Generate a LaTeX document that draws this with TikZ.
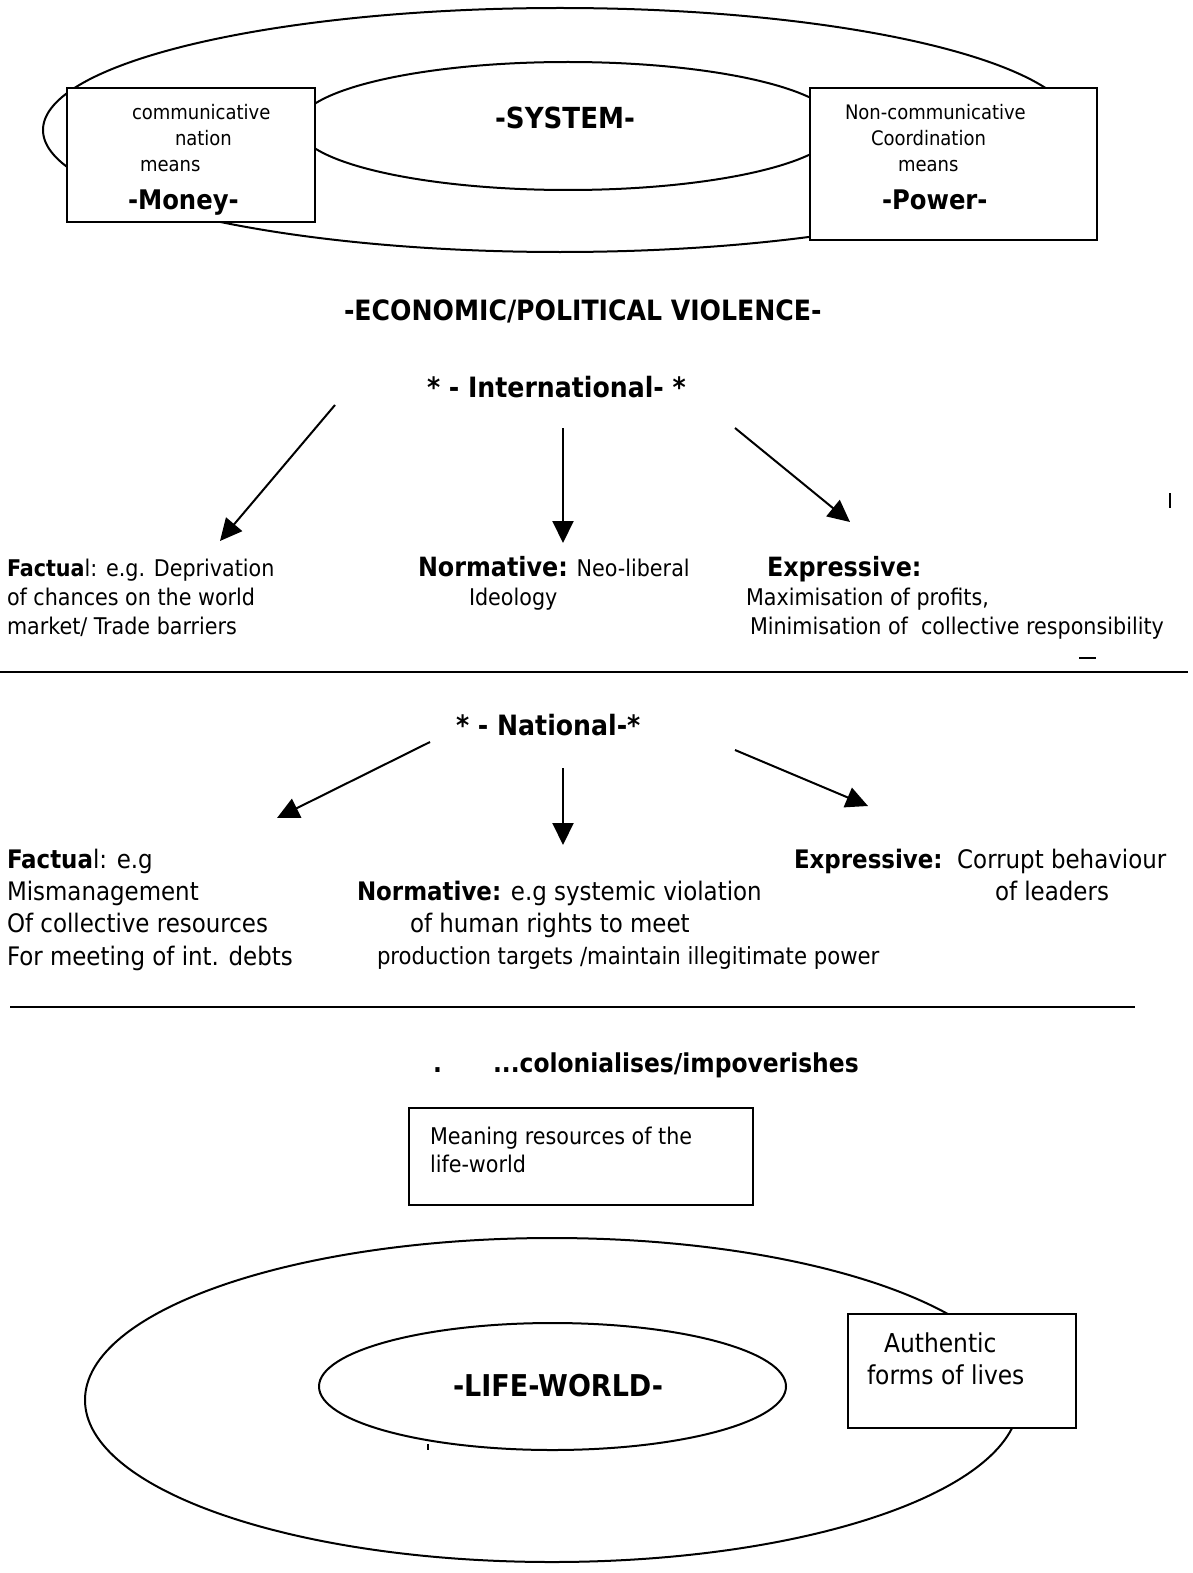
\documentclass[tikz,border=0pt]{standalone}
\usepackage{fontspec}
\setmainfont{DejaVu Sans Condensed}[BoldFont={DejaVu Sans Condensed Bold}]
\usetikzlibrary{arrows.meta}

\newcommand{\biglabel}[1]{{\bfseries\fontsize{26.5}{30}\selectfont #1}}

\begin{document}
\begin{tikzpicture}[x=1pt,y=-1pt,
  every node/.style={inner sep=0pt, outer sep=0pt},
  boxtxt/.style={anchor=base west, font=\fontsize{20}{24}\selectfont},
  smalltxt/.style={anchor=base west, font=\fontsize{23}{28}\selectfont},
  midtxt/.style={anchor=base west, font=\fontsize{25.5}{30}\selectfont},
  head/.style={anchor=base west, font=\bfseries\fontsize{28}{32}\selectfont},
  frame/.style={draw, line width=2pt, fill=white, anchor=north west},
  ring/.style={draw, line width=2pt},
  rule/.style={line width=2.5pt},
  arr/.style={line width=2pt, -{Triangle[length=22pt,width=21pt]}},
]
\path[use as bounding box, fill=white] (0,0) rectangle (1192,1573);

% ---------- system ----------
\draw[ring] (560,130) ellipse [x radius=517, y radius=122];
\draw[ring] (568,126) ellipse [x radius=270, y radius=64];

\node[frame, minimum width=248pt, minimum height=134pt] (moneybox) at (67,88) {};
\node[frame, minimum width=287pt, minimum height=152pt] (powerbox) at (810,88) {};

\node[boxtxt] (m1) at (132,120) {communicative};
\node[boxtxt] (m2) at (175,146) {nation};
\node[boxtxt] (m3) at (140,172) {means};
\node[head, font=\bfseries\fontsize{27}{32}\selectfont] (money) at (128,209) {-Money-};

\node[head, font=\bfseries\fontsize{29}{32}\selectfont, anchor=base] (system) at (565,129) {-SYSTEM-};

\node[boxtxt] (p1) at (845,120) {Non-communicative};
\node[boxtxt] (p2) at (871,146) {Coordination};
\node[boxtxt] (p3) at (898,172) {means};
\node[head, font=\bfseries\fontsize{27}{32}\selectfont] (power) at (882,209) {-Power-};

% ---------- violence ----------
\node[head] (violence) at (344,320) {-ECONOMIC/POLITICAL VIOLENCE-};

% international level
\node[head] (intl) at (427,397) {* - International- *};

\coordinate (i1s) at (335,405);  \coordinate (i1e) at (220,541);
\coordinate (i2s) at (563,428);  \coordinate (i2e) at (563,543);
\coordinate (i3s) at (735,428);  \coordinate (i3e) at (850,522);
\draw[arr] (i1s) -- (i1e);
\draw[arr] (i2s) -- (i2e);
\draw[arr] (i3s) -- (i3e);

\node[smalltxt] (if1) at (7,576) {\textbf{Factua}l: e.g. Deprivation};
\node[smalltxt] (if2) at (7,605) {of chances on the world};
\node[smalltxt] (if3) at (7,634) {market/ Trade barriers};

\node[smalltxt] (in1) at (418,576) {\biglabel{Normative:} Neo-liberal};
\node[smalltxt] (in2) at (469,605) {Ideology};

\node[smalltxt] (ie1) at (767,576) {\biglabel{Expressive:}};
\node[smalltxt] (ie2) at (746,605) {Maximisation of profits,};
\node[smalltxt] (ie3) at (750,634) {Minimisation of\ \ collective responsibility};

\draw[line width=2pt] (1170,493) -- (1170,508);
\draw[line width=2pt] (1079,658) -- (1096,658);

\coordinate (r1a) at (0,672);  \coordinate (r1b) at (1188,672);
\draw[rule] (r1a) -- (r1b);

% national level
\node[head] (natl) at (456,735) {* - National-*};

\coordinate (n1s) at (430,742);  \coordinate (n1e) at (277,818);
\coordinate (n2s) at (563,768);  \coordinate (n2e) at (563,845);
\coordinate (n3s) at (735,750);  \coordinate (n3e) at (868,806);
\draw[arr] (n1s) -- (n1e);
\draw[arr] (n2s) -- (n2e);
\draw[arr] (n3s) -- (n3e);

\node[midtxt] (nf1) at (7,868) {\textbf{Factua}l: e.g};
\node[midtxt] (nf2) at (7,900) {Mismanagement};
\node[midtxt] (nf3) at (7,932) {Of collective resources};
\node[midtxt] (nf4) at (7,965) {For meeting of int. debts};

\node[midtxt] (nn1) at (357,900) {\textbf{Normative:} e.g systemic violation};
\node[midtxt] (nn2) at (410,932) {of human rights to meet};
\node[smalltxt, font=\fontsize{23.6}{28}\selectfont] (nn3) at (377,964) {production targets /maintain illegitimate power};

\node[midtxt] (ne1) at (794,868) {\textbf{Expressive:}\ \ Corrupt behaviour};
\node[midtxt] (ne2) at (995,900) {of leaders};

\coordinate (r2a) at (10,1007);  \coordinate (r2b) at (1135,1007);
\draw[rule] (r2a) -- (r2b);

% ---------- colonisation ----------
\node[head, font=\bfseries\fontsize{26}{30}\selectfont] (dot) at (433,1072) {.};
\node[head, font=\bfseries\fontsize{26}{30}\selectfont] (colon) at (493,1072) {...colonialises/impoverishes};

\node[frame, minimum width=344pt, minimum height=97pt] (meaningbox) at (409,1108) {};
\node[smalltxt] (mr1) at (430,1144) {Meaning resources of the};
\node[smalltxt] (mr2) at (430,1172) {life-world};

% ---------- life-world ----------
\draw[ring] (552,1400) ellipse [x radius=467, y radius=162];
\draw[ring] (552.5,1386.5) ellipse [x radius=233.5, y radius=63.5];
\draw[line width=1.5pt] (428,1444) -- (428,1450);

\node[head, font=\bfseries\fontsize{30}{32}\selectfont] (lifeworld) at (453,1396) {-LIFE-WORLD-};

\node[frame, minimum width=228pt, minimum height=114pt] (authbox) at (848,1314) {};
\node[midtxt, font=\fontsize{26}{30}\selectfont] (a1) at (884,1352) {Authentic};
\node[midtxt, font=\fontsize{26}{30}\selectfont] (a2) at (867,1384) {forms of lives};
\end{tikzpicture}
\end{document}
